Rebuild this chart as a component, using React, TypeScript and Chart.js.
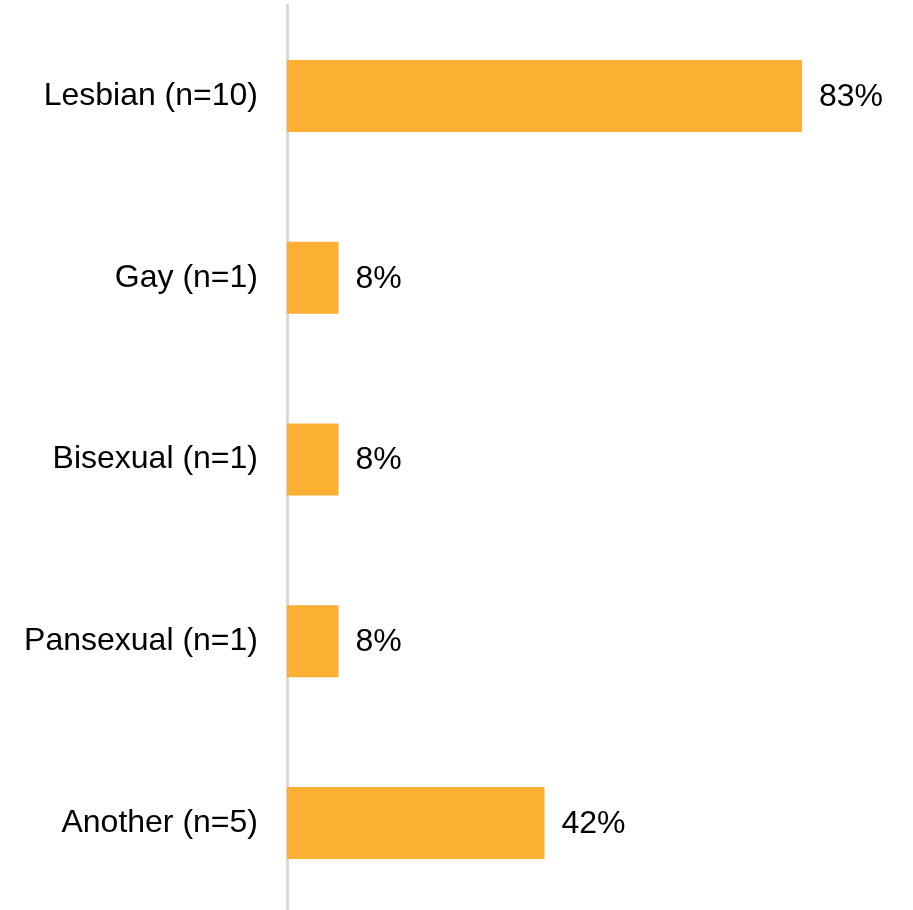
import React, { useEffect, useRef } from "react";
import { Chart, registerables } from "chart.js";

Chart.register(...registerables);

const categories = [
  "Lesbian (n=10)",
  "Gay (n=1)",
  "Bisexual (n=1)",
  "Pansexual (n=1)",
  "Another (n=5)",
];
const percentValues = [83.33, 8.33, 8.33, 8.33, 41.67];
const xMin = 0;
const xMax = 100;

const FONT = "'Liberation Sans', Arial, sans-serif";

const valueLabelPlugin = {
  id: "valueLabels",
  afterDatasetsDraw(chart: any) {
    const ctx = chart.ctx;
    const meta = chart.getDatasetMeta(0);
    ctx.save();
    ctx.font = `32px ${FONT}`;
    ctx.fillStyle = "#000000";
    ctx.textAlign = "left";
    ctx.textBaseline = "middle";
    meta.data.forEach((bar: any, i: number) => {
      const v = chart.data.datasets[0].data[i] as number;
      ctx.fillText(`${Math.round(v)}%`, bar.x + 17, bar.y + 1);
    });
    ctx.restore();
  },
};

export default function App() {
  const ref = useRef<HTMLCanvasElement | null>(null);

  useEffect(() => {
    if (!ref.current) return;
    const chart = new Chart(ref.current, {
      type: "bar",
      data: {
        labels: categories,
        datasets: [
          {
            data: percentValues,
            backgroundColor: "#FBB034",
            borderWidth: 0,
            categoryPercentage: 1,
            barPercentage: 0.396,
          },
        ],
      },
      options: {
        indexAxis: "y",
        responsive: false,
        animation: false,
        layout: { padding: { top: 5, right: 8, bottom: 0, left: 0 } },
        plugins: {
          legend: { display: false },
          tooltip: { enabled: false },
        },
        scales: {
          x: {
            display: false,
            min: xMin,
            max: xMax,
          },
          y: {
            afterFit: (scale: any) => {
              scale.width = 287;
              scale.paddingTop = 0;
              scale.paddingBottom = 0;
            },
            grid: { display: false, drawTicks: false },
            border: { display: true, color: "#d9d9d9", width: 3 },
            ticks: {
              padding: 29,
              color: "#000000",
              font: { family: FONT, size: 32 },
            },
          },
        },
      },
      plugins: [valueLabelPlugin],
    });
    return () => chart.destroy();
  }, []);

  return (
    <div
      style={{
        position: "fixed",
        top: 0,
        left: 0,
        width: 913,
        height: 910,
        overflow: "hidden",
        background: "#ffffff",
      }}
    >
      <canvas ref={ref} width={913} height={914} style={{ display: "block" }} />
    </div>
  );
}
